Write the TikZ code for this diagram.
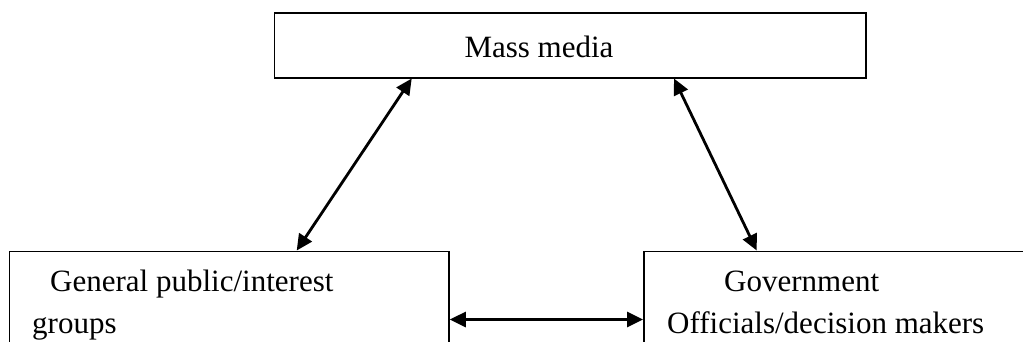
\documentclass[tikz,border=0pt]{standalone}
\usepackage{fontspec}
\setmainfont{Liberation Serif}
\usetikzlibrary{arrows.meta,calc}
\begin{document}
\begin{tikzpicture}[x=1pt,y=-1pt,
  box/.style={draw=black,line width=1.8pt,inner sep=0pt,anchor=north west},
  lbl/.style={inner sep=0pt,anchor=base west,font=\fontsize{31}{37}\selectfont},
  link/.style={line width=2.8pt,{Triangle[length=16pt,width=15pt]}-{Triangle[length=16pt,width=15pt]}}]
\useasboundingbox (0,0) rectangle (1023,341);
\clip (0,0) rectangle (1023,341);
\fill[white] (0,0) rectangle (1023,341);
% boxes
\node[box,minimum width=591.5pt,minimum height=64.7pt] (mm) at (273.5,12) {};
\node[box,minimum width=439.5pt,minimum height=120pt] (gp) at (8.5,250.5) {};
\node[box,minimum width=420pt,minimum height=120pt] (go) at (643,250.5) {};
% texts
\node[lbl,anchor=base] (t1) at (539,57) {Mass media};
\node[lbl] (t2) at (50,291) {General public/interest};
\node[lbl] (t3) at (32,333) {groups};
\node[lbl] (t4) at (724,291) {Government};
\node[lbl] (t5) at (667,333) {Officials/decision makers};
% connectors
\draw[link] ([xshift=288.2pt]gp.north west) -- ([xshift=138.2pt]mm.south west);
\draw[link] ([xshift=400.5pt]mm.south west) -- ([xshift=113.7pt]go.north west);
\draw[link] ([yshift=-69pt]gp.north east) -- ([yshift=-69pt]go.north west);
\end{tikzpicture}
\end{document}
